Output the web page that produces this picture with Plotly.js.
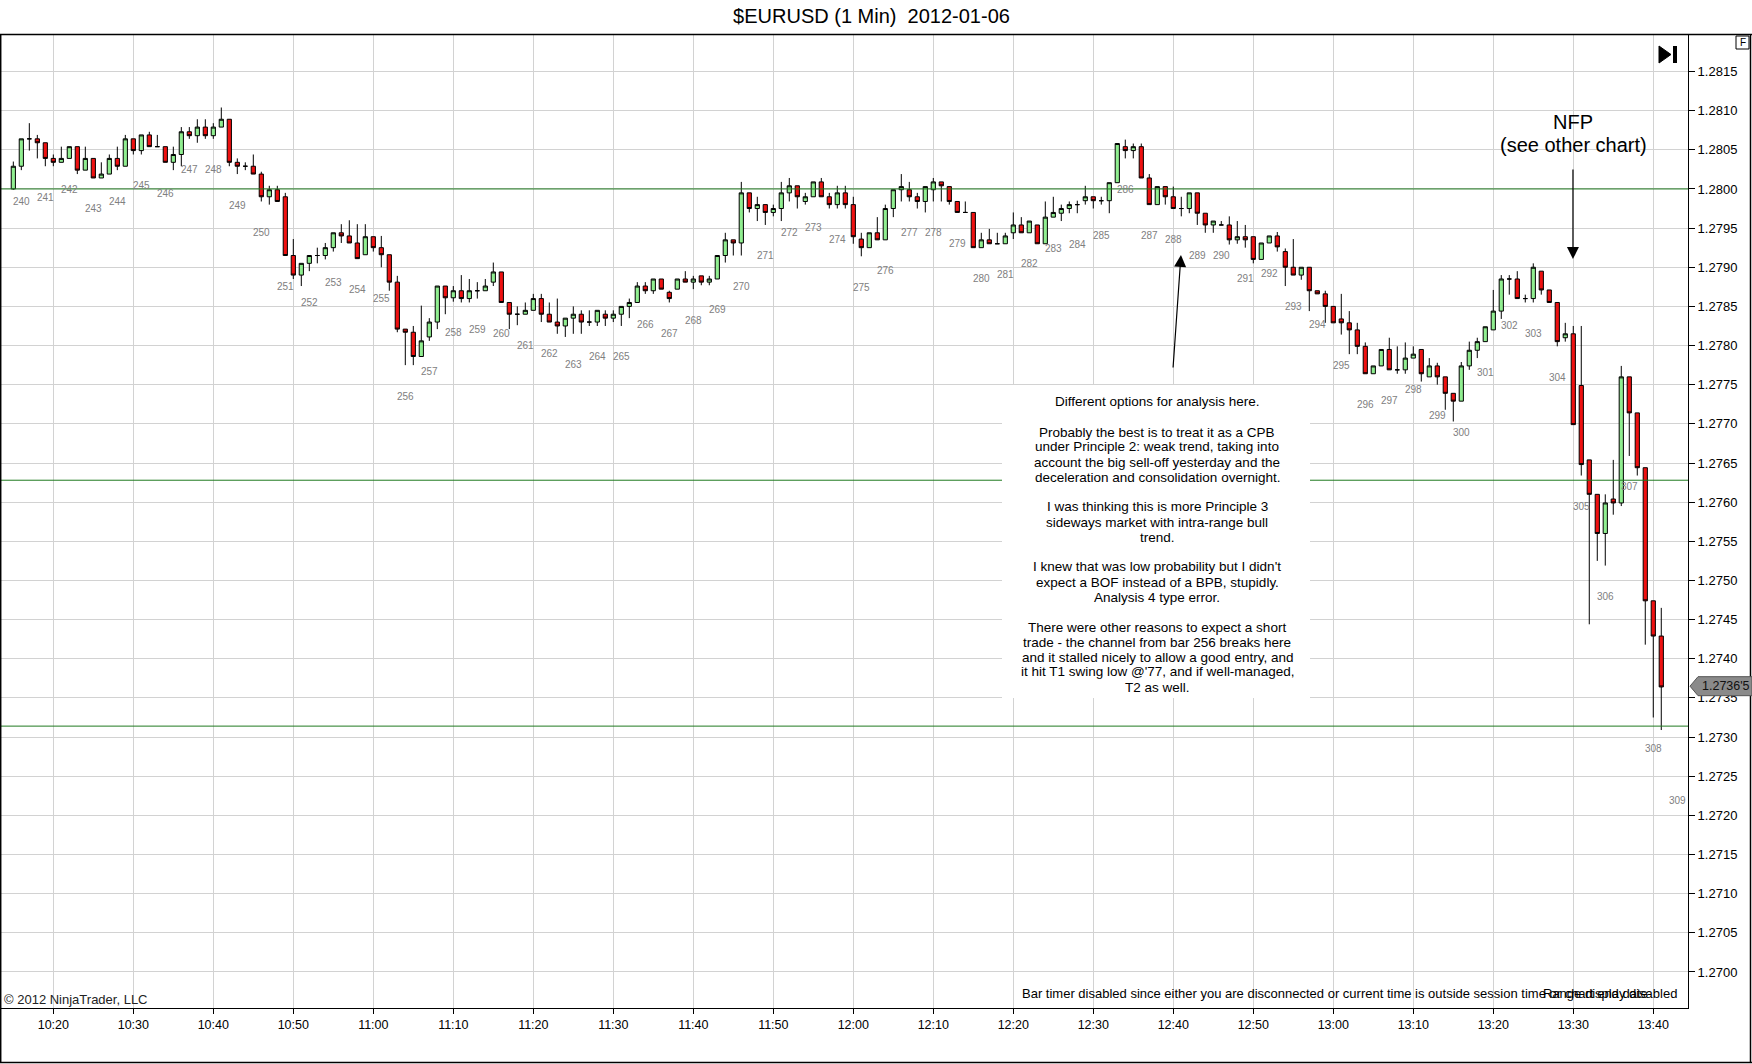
<!DOCTYPE html>
<html>
<head>
<meta charset="utf-8">
<script src="https://cdn.plot.ly/plotly-3.0.1.min.js"></script>
<style>
  html, body { margin: 0; padding: 0; background: #ffffff; }
  #chart { width: 1752px; height: 1064px; }
</style>
</head>
<body>
<div id="chart"></div>
<script>
// ---- DATA (1-minute bars, 2012-01-06 from 10:15) ----
const sessionDate = '2012-01-06';
const firstBarTime = '10:15';

const open = [
1.28000,1.28029,1.28064,1.28064,1.28059,1.28039,1.28034,1.28039,1.28054,1.28024,
1.28039,1.28014,1.28019,1.28039,1.28029,1.28064,1.28049,1.28069,1.28054,1.28054,
1.28034,1.28044,1.28073,1.28068,1.28079,1.28068,1.28079,1.28089,1.28034,1.28029,
1.28029,1.28019,1.27990,1.27999,1.27990,1.27915,1.27890,1.27905,1.27915,1.27915,
1.27925,1.27944,1.27940,1.27931,1.27916,1.27939,1.27925,1.27916,1.27881,1.27821,
1.27817,1.27786,1.27811,1.27830,1.27876,1.27861,1.27870,1.27860,1.27870,1.27870,
1.27881,1.27894,1.27855,1.27840,1.27840,1.27845,1.27860,1.27840,1.27830,1.27825,
1.27835,1.27840,1.27830,1.27830,1.27840,1.27835,1.27840,1.27850,1.27855,1.27876,
1.27870,1.27885,1.27868,1.27872,1.27885,1.27881,1.27889,1.27881,1.27885,1.27915,
1.27935,1.27931,1.27995,1.27975,1.27980,1.27970,1.27975,1.27995,1.28004,1.27984,
1.27990,1.28009,1.27990,1.27980,1.27995,1.27980,1.27936,1.27925,1.27944,1.27935,
1.27975,1.27999,1.27999,1.27990,1.27984,1.27999,1.28009,1.28003,1.27984,1.27970,
1.27970,1.27925,1.27935,1.27930,1.27930,1.27944,1.27954,1.27944,1.27954,1.27930,
1.27964,1.27969,1.27975,1.27980,1.27985,1.27990,1.27985,1.27985,1.28008,1.28054,
1.28049,1.28054,1.28014,1.27980,1.28003,1.27990,1.27975,1.27975,1.27995,1.27969,
1.27954,1.27954,1.27954,1.27935,1.27939,1.27939,1.27910,1.27931,1.27940,1.27920,
1.27900,1.27890,1.27900,1.27870,1.27866,1.27850,1.27834,1.27829,1.27820,1.27799,
1.27764,1.27774,1.27795,1.27769,1.27769,1.27784,1.27795,1.27760,1.27774,1.27760,
1.27739,1.27729,1.27774,1.27794,1.27805,1.27820,1.27844,1.27885,1.27885,1.27860,
1.27860,1.27895,1.27871,1.27855,1.27810,1.27815,1.27749,1.27654,1.27610,1.27560,
1.27604,1.27599,1.27760,1.27714,1.27644,1.27474,1.27429];

const high = [
1.28035,1.28064,1.28084,1.28069,1.28059,1.28044,1.28054,1.28054,1.28054,1.28054,
1.28039,1.28034,1.28044,1.28054,1.28069,1.28064,1.28069,1.28073,1.28069,1.28054,
1.28054,1.28079,1.28079,1.28089,1.28089,1.28084,1.28104,1.28089,1.28039,1.28034,
1.28044,1.28022,1.28004,1.28004,1.27995,1.27936,1.27905,1.27915,1.27925,1.27931,
1.27944,1.27955,1.27960,1.27955,1.27955,1.27939,1.27940,1.27916,1.27889,1.27821,
1.27825,1.27851,1.27835,1.27876,1.27876,1.27876,1.27890,1.27885,1.27881,1.27885,
1.27906,1.27894,1.27855,1.27850,1.27855,1.27866,1.27866,1.27855,1.27860,1.27835,
1.27850,1.27845,1.27845,1.27845,1.27845,1.27845,1.27850,1.27860,1.27881,1.27881,
1.27885,1.27885,1.27870,1.27885,1.27895,1.27889,1.27889,1.27889,1.27915,1.27944,
1.27935,1.28009,1.27995,1.27990,1.27980,1.27980,1.28009,1.28014,1.28004,1.27995,
1.28009,1.28014,1.27995,1.28004,1.28004,1.27990,1.27944,1.27944,1.27964,1.27980,
1.27999,1.28019,1.28009,1.27995,1.28003,1.28014,1.28009,1.28003,1.27984,1.27984,
1.27970,1.27944,1.27949,1.27944,1.27944,1.27970,1.27964,1.27959,1.27954,1.27984,
1.27990,1.27980,1.27984,1.27985,1.28004,1.27990,1.27990,1.28008,1.28058,1.28063,
1.28058,1.28058,1.28019,1.28003,1.28003,1.28003,1.27990,1.27995,1.27995,1.27969,
1.27959,1.27959,1.27965,1.27959,1.27954,1.27939,1.27931,1.27940,1.27945,1.27924,
1.27936,1.27900,1.27900,1.27870,1.27870,1.27850,1.27866,1.27844,1.27829,1.27804,
1.27774,1.27795,1.27810,1.27799,1.27804,1.27799,1.27795,1.27784,1.27778,1.27760,
1.27739,1.27779,1.27805,1.27810,1.27824,1.27871,1.27890,1.27890,1.27895,1.27865,
1.27905,1.27895,1.27871,1.27855,1.27829,1.27825,1.27825,1.27654,1.27610,1.27610,
1.27654,1.27774,1.27760,1.27714,1.27644,1.27474,1.27465];

const low = [
1.27999,1.28024,1.28049,1.28039,1.28029,1.28029,1.28034,1.28039,1.28019,1.28024,
1.28014,1.28014,1.28019,1.28024,1.28029,1.28044,1.28044,1.28054,1.28054,1.28034,
1.28024,1.28029,1.28064,1.28059,1.28064,1.28064,1.28079,1.28029,1.28019,1.28024,
1.28019,1.27984,1.27980,1.27984,1.27915,1.27885,1.27876,1.27895,1.27905,1.27910,
1.27920,1.27931,1.27931,1.27911,1.27916,1.27920,1.27900,1.27870,1.27817,1.27775,
1.27775,1.27786,1.27806,1.27821,1.27840,1.27856,1.27855,1.27855,1.27860,1.27870,
1.27876,1.27855,1.27821,1.27826,1.27840,1.27845,1.27830,1.27830,1.27815,1.27811,
1.27815,1.27815,1.27825,1.27825,1.27825,1.27830,1.27825,1.27835,1.27855,1.27866,
1.27866,1.27872,1.27855,1.27872,1.27881,1.27872,1.27877,1.27877,1.27885,1.27906,
1.27915,1.27915,1.27970,1.27959,1.27954,1.27965,1.27959,1.27984,1.27975,1.27980,
1.27990,1.27990,1.27975,1.27975,1.27975,1.27930,1.27914,1.27925,1.27935,1.27935,
1.27964,1.27984,1.27984,1.27975,1.27970,1.27984,1.27984,1.27980,1.27970,1.27970,
1.27925,1.27925,1.27930,1.27930,1.27930,1.27936,1.27944,1.27944,1.27930,1.27930,
1.27964,1.27959,1.27969,1.27969,1.27980,1.27975,1.27980,1.27969,1.28008,1.28039,
1.28039,1.28014,1.27980,1.27980,1.27980,1.27975,1.27965,1.27969,1.27954,1.27944,
1.27944,1.27954,1.27929,1.27930,1.27925,1.27905,1.27910,1.27931,1.27920,1.27876,
1.27890,1.27884,1.27844,1.27866,1.27829,1.27829,1.27814,1.27789,1.27789,1.27764,
1.27764,1.27774,1.27769,1.27764,1.27764,1.27784,1.27754,1.27760,1.27750,1.27718,
1.27703,1.27729,1.27769,1.27784,1.27805,1.27820,1.27834,1.27865,1.27860,1.27855,
1.27855,1.27865,1.27855,1.27799,1.27805,1.27699,1.27634,1.27444,1.27525,1.27519,
1.27584,1.27595,1.27659,1.27634,1.27418,1.27325,1.27309];

const close = [
1.28029,1.28064,1.28064,1.28059,1.28039,1.28034,1.28039,1.28054,1.28024,1.28039,
1.28014,1.28019,1.28039,1.28029,1.28064,1.28049,1.28069,1.28054,1.28054,1.28034,
1.28044,1.28073,1.28068,1.28079,1.28068,1.28079,1.28089,1.28034,1.28029,1.28029,
1.28019,1.27990,1.27999,1.27984,1.27915,1.27890,1.27905,1.27915,1.27915,1.27925,
1.27944,1.27940,1.27931,1.27911,1.27939,1.27925,1.27916,1.27881,1.27821,1.27817,
1.27786,1.27806,1.27830,1.27876,1.27861,1.27870,1.27860,1.27870,1.27870,1.27876,
1.27894,1.27855,1.27840,1.27840,1.27845,1.27860,1.27840,1.27830,1.27825,1.27835,
1.27840,1.27830,1.27830,1.27845,1.27835,1.27840,1.27850,1.27855,1.27876,1.27870,
1.27885,1.27872,1.27860,1.27885,1.27881,1.27885,1.27881,1.27885,1.27915,1.27935,
1.27931,1.27995,1.27975,1.27980,1.27970,1.27975,1.27995,1.28004,1.27990,1.27990,
1.28009,1.27990,1.27980,1.27995,1.27980,1.27939,1.27925,1.27944,1.27935,1.27975,
1.27999,1.28003,1.27990,1.27984,1.28003,1.28009,1.28004,1.27984,1.27970,1.27970,
1.27925,1.27935,1.27930,1.27930,1.27940,1.27954,1.27944,1.27959,1.27930,1.27964,
1.27970,1.27975,1.27980,1.27980,1.27990,1.27985,1.27985,1.28008,1.28058,1.28049,
1.28054,1.28014,1.27980,1.28003,1.27990,1.27975,1.27975,1.27995,1.27969,1.27954,
1.27959,1.27954,1.27935,1.27939,1.27935,1.27910,1.27931,1.27940,1.27926,1.27900,
1.27890,1.27900,1.27870,1.27866,1.27850,1.27829,1.27829,1.27820,1.27799,1.27764,
1.27774,1.27795,1.27769,1.27769,1.27784,1.27789,1.27764,1.27774,1.27760,1.27739,
1.27729,1.27774,1.27794,1.27805,1.27824,1.27844,1.27885,1.27885,1.27860,1.27860,
1.27900,1.27871,1.27855,1.27805,1.27815,1.27699,1.27648,1.27610,1.27560,1.27599,
1.27599,1.27760,1.27714,1.27644,1.27474,1.27429,1.27364];

// bar-number labels, one every third bar starting at the second bar
const barNumbers = [240,241,242,243,244,245,246,247,248,249,250,251,252,253,254,255,256,257,258,259,
  260,261,262,263,264,265,266,267,268,269,270,271,272,273,274,275,276,277,278,279,
  280,281,282,283,284,285,286,287,288,289,290,291,292,293,294,295,296,297,298,299,
  300,301,302,303,304,305,306,307,308,309];
const labelBarStep = 3;
const labelBarOffset = 1;
const label309Low = 1.27259;   // label past the last drawn bar

const levels = [1.28000, 1.27628, 1.27314];
const lastPrice = 1.27365;
const lastPriceText = "1.2736'5";

const tickLabels = ['10:20','10:30','10:40','10:50','11:00','11:10','11:20','11:30','11:40','11:50',
  '12:00','12:10','12:20','12:30','12:40','12:50','13:00','13:10','13:20','13:30','13:40'];

const noteLines = [
  'Different options for analysis here.',
  '',
  'Probably the best is to treat it as a CPB',
  'under Principle 2: weak trend, taking into',
  'account the big sell-off yesterday and the',
  'deceleration and consolidation overnight.',
  '',
  'I was thinking this is more Principle 3',
  'sideways market with intra-range bull',
  'trend.',
  '',
  "I knew that was low probability but I didn't",
  'expect a BOF instead of a BPB, stupidly.',
  'Analysis 4 type error.',
  '',
  'There were other reasons to expect a short',
  'trade - the channel from bar 256 breaks here',
  'and it stalled nicely to allow a good entry, and',
  "it hit T1 swing low @'77, and if well-managed,",
  'T2 as well.'
];

// ---- helpers ----
function pad(n){ return (n < 10 ? '0' : '') + n; }
const baseSec = parseInt(firstBarTime.split(':')[0]) * 3600 + parseInt(firstBarTime.split(':')[1]) * 60;
function tStr(m){
  const s = baseSec + m * 60;
  const h = Math.floor(s / 3600);
  const mi = Math.floor((s - h * 3600) / 60);
  let se = s - h * 3600 - mi * 60;
  let ss = se.toFixed(3);
  if (se < 10) ss = '0' + ss;
  return sessionDate + ' ' + pad(h) + ':' + pad(mi) + ':' + ss;
}
const W = 1752, H = 1064;
const ML = 1, MR = 64, MT = 35, MB = 56;
const PW = W - ML - MR, PH = H - MT - MB;
const X = px => (px - ML) / PW;
const Y = py => (H - MB - py) / PH;

const times = open.map((_, i) => tStr(i));
const FONT = 'Liberation Sans, Arial, sans-serif';

const trace = {
  type: 'candlestick',
  x: times, open: open, high: high, low: low, close: close,
  increasing: { line: { color: '#000000', width: 1 }, fillcolor: '#90EE90' },
  decreasing: { line: { color: '#000000', width: 1 }, fillcolor: '#EE1111' },
  whiskerwidth: 0,
  hoverinfo: 'skip',
  showlegend: false
};

const annotations = [];
// bar numbers
barNumbers.forEach((n, k) => {
  const idx = labelBarOffset + labelBarStep * k;
  const yv = idx < low.length ? low[idx] : label309Low;
  annotations.push({
    xref: 'x', yref: 'y', x: tStr(idx), y: yv, yshift: -31,
    text: String(n), showarrow: false, xanchor: 'center', yanchor: 'middle',
    font: { family: FONT, size: 10, color: '#808080' }
  });
});
// note text block
noteLines.forEach((t, i) => {
  if (!t) return;
  annotations.push({
    xref: 'paper', yref: 'paper', x: X(1157), y: Y(402 + 15 * i),
    text: t, showarrow: false, xanchor: 'center', yanchor: 'middle',
    font: { family: FONT, size: 13.5, color: '#000000' }
  });
});
// arrows
annotations.push({
  xref: 'x', yref: 'y', x: tStr(194.96), y: 1.279105, text: '',
  showarrow: true, ax: 0, ay: -91, arrowhead: 2, arrowsize: 2, arrowwidth: 1.2, arrowcolor: '#000000'
});
annotations.push({
  xref: 'x', yref: 'y', x: tStr(145.96), y: 1.279157, text: '',
  showarrow: true, ax: -8, ay: 114, arrowhead: 2, arrowsize: 2, arrowwidth: 1.2, arrowcolor: '#000000'
});
// NFP text
annotations.push({ xref: 'paper', yref: 'paper', x: X(1573), y: Y(122), text: 'NFP', showarrow: false,
  xanchor: 'center', yanchor: 'middle', font: { family: FONT, size: 20, color: '#000000' } });
annotations.push({ xref: 'paper', yref: 'paper', x: X(1573), y: Y(145), text: '(see other chart)', showarrow: false,
  xanchor: 'center', yanchor: 'middle', font: { family: FONT, size: 20, color: '#000000' } });
// footer texts
annotations.push({ xref: 'paper', yref: 'paper', x: X(2), y: Y(999), text: '\u00a9 2012 NinjaTrader, LLC', showarrow: false,
  xanchor: 'left', yanchor: 'middle', font: { family: FONT, size: 13, color: '#222222' } });
annotations.push({ xref: 'paper', yref: 'paper', x: X(1020), y: Y(993),
  text: 'Bar timer disabled since either you are disconnected or current time is outside session time or chart end date',
  showarrow: false, xanchor: 'left', yanchor: 'middle', font: { family: FONT, size: 13, color: '#000000' } });
annotations.push({ xref: 'paper', yref: 'paper', x: X(1679), y: Y(993), text: 'Range display disabled',
  showarrow: false, xanchor: 'right', yanchor: 'middle', font: { family: FONT, size: 13, color: '#000000' } });
// last price marker text
annotations.push({ xref: 'paper', yref: 'y', x: X(1726), y: lastPrice, text: lastPriceText, showarrow: false,
  xanchor: 'center', yanchor: 'middle', font: { family: FONT, size: 12.5, color: '#111111' } });
// F box text
annotations.push({ xref: 'paper', yref: 'paper', x: X(1742.5), y: Y(42.5), text: 'F', showarrow: false,
  xanchor: 'center', yanchor: 'middle', font: { family: FONT, size: 10, color: '#000000' } });

const shapes = [];
levels.forEach(v => shapes.push({
  type: 'line', xref: 'paper', yref: 'y', x0: 0, x1: 1, y0: v, y1: v,
  line: { color: '#1f7a1f', width: 1 }, layer: 'above'
}));
// white background of the note text
shapes.push({ type: 'rect', xref: 'paper', yref: 'paper', x0: X(1002), x1: X(1310), y0: Y(698), y1: Y(385),
  fillcolor: '#ffffff', line: { width: 0 }, layer: 'above' });
// outer frame
const frame = { color: '#000000', width: 1.5 };
shapes.push({ type: 'line', xref: 'paper', yref: 'paper', x0: X(0), x1: X(1752), y0: Y(34.5), y1: Y(34.5), line: frame });
shapes.push({ type: 'line', xref: 'paper', yref: 'paper', x0: X(0.7), x1: X(0.7), y0: Y(34.5), y1: Y(1062.5), line: frame });
shapes.push({ type: 'line', xref: 'paper', yref: 'paper', x0: X(1750.5), x1: X(1750.5), y0: Y(34.5), y1: Y(1062.5), line: frame });
shapes.push({ type: 'line', xref: 'paper', yref: 'paper', x0: X(0), x1: X(1752), y0: Y(1062.5), y1: Y(1062.5), line: frame });
// last price pentagon marker
(function(){
  const yc = H - MB - ( (lastPrice - 0) ); // placeholder not used
})();
function pricePy(p){ return MT + (yMax - p) / (yMax - yMin) * PH; }
const yMin = 1.269540, yMax = 1.281966;
const lpY = pricePy(lastPrice);
const pent = [[1690, lpY], [1698, lpY - 9.5], [1752, lpY - 9.5], [1752, lpY + 9.5], [1698, lpY + 9.5]];
shapes.push({ type: 'path', xref: 'paper', yref: 'paper',
  path: 'M' + pent.map(p => X(p[0]) + ',' + Y(p[1])).join('L') + 'Z',
  fillcolor: '#8a8a8a', line: { color: '#555555', width: 1 } });
// F box
shapes.push({ type: 'rect', xref: 'paper', yref: 'paper', x0: X(1736), x1: X(1749), y0: Y(49), y1: Y(36),
  fillcolor: '#ffffff', line: { color: '#000000', width: 1 } });
// play-to-end icon
shapes.push({ type: 'path', xref: 'paper', yref: 'paper',
  path: 'M' + X(1659) + ',' + Y(46) + 'L' + X(1671) + ',' + Y(54.5) + 'L' + X(1659) + ',' + Y(63) + 'Z',
  fillcolor: '#000000', line: { color: '#000000', width: 1 } });
shapes.push({ type: 'rect', xref: 'paper', yref: 'paper', x0: X(1673), x1: X(1677), y0: Y(63), y1: Y(46),
  fillcolor: '#000000', line: { color: '#000000', width: 0 } });

const layout = {
  width: W, height: H,
  margin: { l: ML, r: MR, t: MT, b: MB, pad: 0 },
  paper_bgcolor: '#ffffff', plot_bgcolor: '#ffffff',
  showlegend: false,
  hovermode: false,
  boxgap: 0.25,
  title: {
    text: '$EURUSD (1 Min)  2012-01-06',
    x: 871.5 / W, xref: 'container', xanchor: 'center',
    y: 1 - 16 / H, yref: 'container', yanchor: 'middle',
    font: { family: FONT, size: 20, color: '#000000' }
  },
  xaxis: {
    type: 'date',
    range: [tStr(-1.54), tStr(209.34)],
    rangeslider: { visible: false },
    tickvals: tickLabels.map(t => sessionDate + ' ' + t),
    ticktext: tickLabels,
    showgrid: true, gridcolor: '#d2d2d2', gridwidth: 1,
    showline: true, linecolor: '#000000', linewidth: 1,
    ticks: 'outside', ticklen: 5, tickcolor: '#000000',
    tickfont: { family: FONT, size: 12.5, color: '#000000' },
    zeroline: false, fixedrange: true
  },
  yaxis: {
    side: 'right',
    range: [yMin, yMax],
    tick0: 1.27, dtick: 0.0005, tickformat: '.4f',
    showgrid: true, gridcolor: '#d2d2d2', gridwidth: 1,
    showline: true, linecolor: '#000000', linewidth: 1,
    ticks: 'outside', ticklen: 6, tickcolor: '#000000',
    tickfont: { family: FONT, size: 13, color: '#000000' },
    zeroline: false, fixedrange: true
  },
  annotations: annotations,
  shapes: shapes
};

Plotly.newPlot('chart', [trace], layout, { displayModeBar: false, staticPlot: true });
</script>
</body>
</html>
